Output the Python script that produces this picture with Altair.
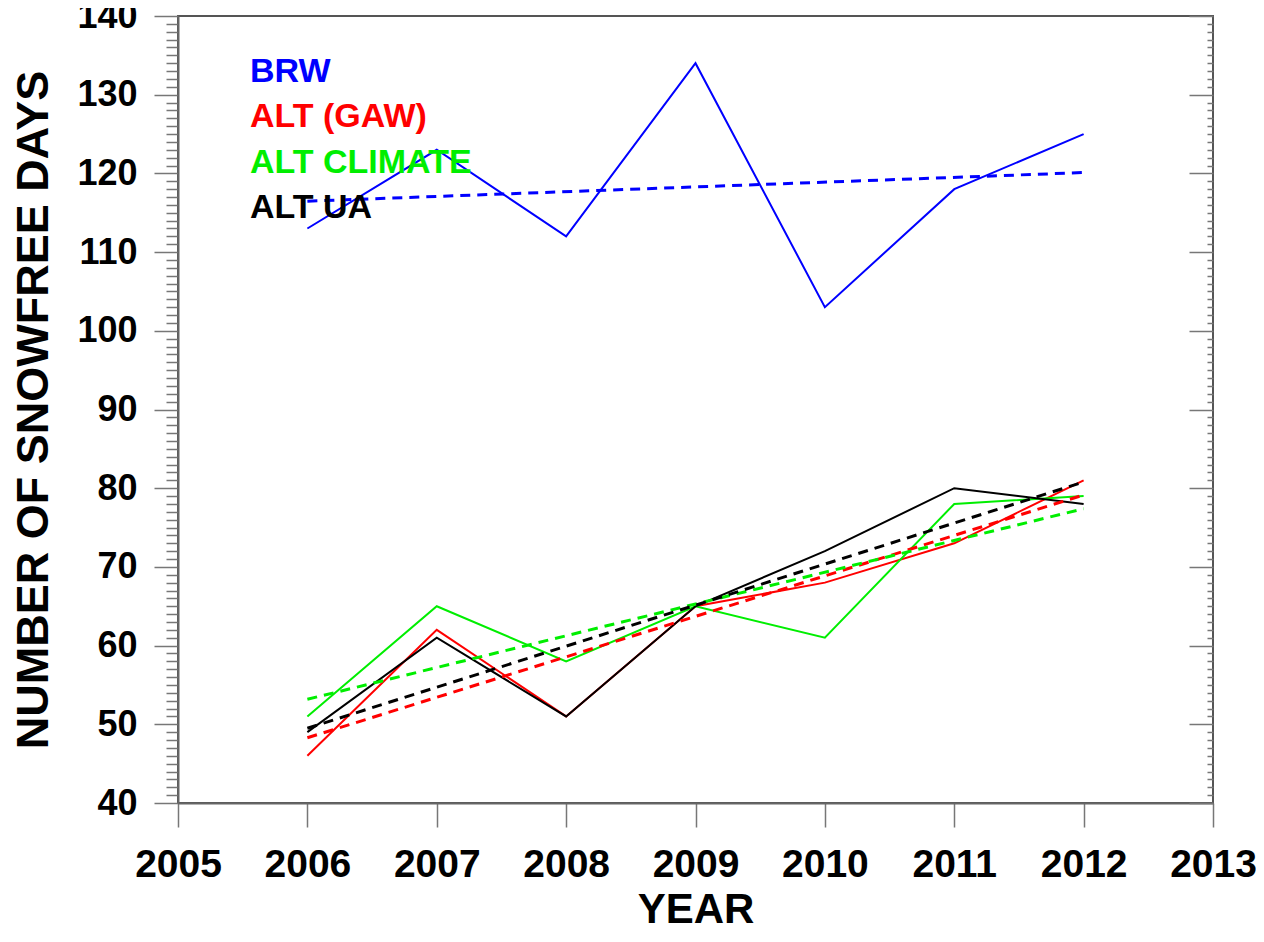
import altair as alt
import pandas as pd

# ---- data ----
years = [2006, 2007, 2008, 2009, 2010, 2011, 2012]
brw = [113, 123, 112, 134, 103, 118, 125]
alt_gaw = [46, 62, 51, 65, 68, 73, 81]
alt_climate = [51, 65, 58, 65, 61, 78, 79]
alt_ua = [49, 61, 51, 65, 72, 80, 78]

series_names = ["BRW", "ALT (GAW)", "ALT CLIMATE", "ALT UA"]
series_colors = ["#0000ff", "#ff0000", "#00ee00", "#000000"]

# tick positions: majors every year / every 10 days, minors between
x_ticks = [2005 + 0.25 * i for i in range(33)]
y_ticks = list(range(40, 141))

rows = []
for name, vals in zip(series_names, [brw, alt_gaw, alt_climate, alt_ua]):
    for yr, v in zip(years, vals):
        rows.append({"series": name, "year": yr, "value": v})
df = pd.DataFrame(rows)
legend_df = pd.DataFrame({"series": series_names})

FONT = "Liberation Sans"
XDOM = [2005, 2013]
YDOM = [40, 140]

color = alt.Color(
    "series:N",
    scale=alt.Scale(domain=series_names, range=series_colors),
    legend=None,
)

X_MAJOR = "datum.value % 1 === 0"
Y_MAJOR = "datum.value % 10 === 0"


def xs(axis):
    return alt.X("year:Q", scale=alt.Scale(domain=XDOM, nice=False, zero=False), axis=axis)


def ys(axis):
    return alt.Y("value:Q", scale=alt.Scale(domain=YDOM, nice=False, zero=False), axis=axis)


x_axis = alt.Axis(
    title="YEAR", orient="bottom", values=x_ticks, format="d",
    labelExpr=X_MAJOR + " ? datum.label : ''",
    tickSize=24,
    tickDash={"condition": {"test": X_MAJOR, "value": [1, 0]}, "value": [12, 30]},
    labelPadding=18, labelFontSize=39, titleFontSize=42, titlePadding=5,
    grid=False, labelOverlap=False, labelFlush=False,
)
y_left = alt.Axis(
    title="NUMBER OF SNOWFREE DAYS", orient="left", values=y_ticks,
    labelExpr=Y_MAJOR + " ? datum.label : ''",
    tickSize=24,
    tickDash={"condition": {"test": Y_MAJOR, "value": [1, 0]}, "value": [12, 30]},
    labelPadding=17, labelFontSize=36, titleFontSize=45, titlePadding=20,
    grid=False, labelOverlap=False, labelFlush=False,
)
y_right = alt.Axis(
    title=None, orient="right", values=y_ticks, labels=False,
    tickSize=24, offset=-24,
    tickDash={"condition": {"test": Y_MAJOR, "value": [1, 0]}, "value": [12, 30]},
    tickDashOffset={"condition": {"test": Y_MAJOR, "value": 0}, "value": 24},
    grid=False, domain=False,
)

base = alt.Chart(df)

lines = base.mark_line(strokeWidth=2).encode(
    x=xs(x_axis), y=ys(y_left), color=color, detail="series:N"
)
trends = (
    base.transform_regression("year", "value", groupby=["series"])
    .mark_line(strokeWidth=3, strokeDash=[10, 7])
    .encode(x=xs(None), y=ys(y_right), color=color, detail="series:N")
)

legend_text = (
    alt.Chart(legend_df)
    .mark_text(align="left", baseline="middle", font=FONT, fontWeight="bold", fontSize=34)
    .encode(
        x=alt.value(72),
        y=alt.Y(
            "series:N",
            sort=series_names,
            scale=alt.Scale(type="point", domain=series_names, range=[56, 192], padding=0),
            axis=None,
        ),
        text="series:N",
        color=color,
    )
)

chart = (
    alt.layer(lines, trends, legend_text)
    .resolve_scale(y="independent")
    .resolve_axis(x="independent", y="independent")
    .properties(
        width=1035,
        height=787,
        autosize=alt.AutoSizeParams(type="none"),
        padding={"left": 170, "top": 8, "right": 43, "bottom": 126},
    )
    .configure_view(stroke="#555", strokeWidth=2)
    .configure_axis(
        labelFont=FONT,
        labelFontWeight="bold",
        labelColor="#000",
        titleFont=FONT,
        titleFontWeight="bold",
        titleColor="#000",
        domainColor="#666",
        domainWidth=2,
        tickColor="#777",
        tickWidth=1.5,
    )
)

chart.save("out.html", embed_options={"renderer": "svg", "actions": False})
